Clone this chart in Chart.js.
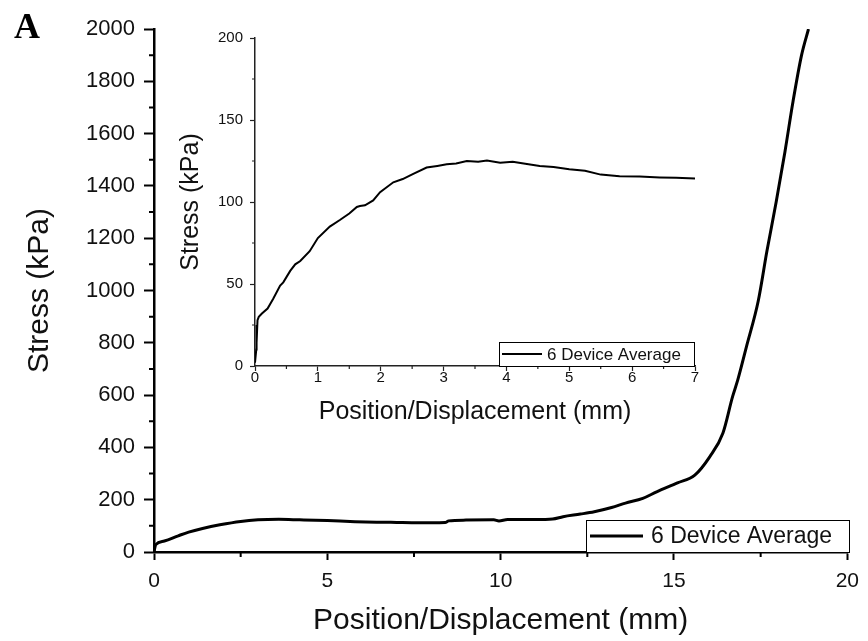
<!DOCTYPE html>
<html>
<head>
<meta charset="utf-8">
<script src="https://cdn.jsdelivr.net/npm/chart.js@4.4.1/dist/chart.umd.min.js"></script>
<style>
html, body { margin: 0; padding: 0; background: #fff; }
#wrap { position: relative; width: 868px; height: 641px; }
#wrap canvas { position: absolute; left: 0; top: 0; }
#panel { position: absolute; left: 14px; top: 8px; font: bold 36px "Liberation Serif", "Times New Roman", serif; line-height: 1; color: #000; }
</style>
</head>
<body>
<div id="wrap">
  <canvas id="mainChart" width="868" height="641"></canvas>
  <canvas id="insetChart" width="868" height="641"></canvas>
  <div id="panel">A</div>
</div>
<script>
// data
const seriesLabel = '6 Device Average';

// main plot: full compression curve
const mainX = [0, 0.03, 0.05, 0.3, 0.7, 1.0, 1.4, 1.9, 2.5, 3.0, 3.6, 4.2, 5.0, 5.8, 6.5, 7.0, 7.5, 8.0, 8.4, 8.5, 9.0, 9.8, 9.95, 10.2, 11.0, 11.5, 11.8, 12.3, 12.7, 13.2, 13.6, 14.1, 14.5, 15.1, 15.6, 16.03, 16.41, 16.69, 16.84, 17.1, 17.43, 17.68, 17.95, 18.2, 18.43, 18.68, 18.88];
const mainY = [0, 20, 28, 42, 62, 76, 90, 104, 117, 123, 125, 123, 120, 116, 114, 113, 112, 112, 113, 119, 122, 123, 119, 124, 124, 126, 135, 145, 154, 170, 187, 205, 230, 264, 294, 364, 454, 594, 658, 790, 960, 1150, 1340, 1530, 1720, 1900, 2000];

// inset: first 7 mm
const insetX = [0, 0.02, 0.03, 0.02, 0.04, 0.06, 0.11, 0.2, 0.29, 0.4, 0.45, 0.56, 0.64, 0.72, 0.87, 1.0, 1.19, 1.35, 1.5, 1.62, 1.67, 1.75, 1.88, 1.99, 2.2, 2.35, 2.51, 2.73, 2.9, 3.05, 3.2, 3.37, 3.55, 3.69, 3.9, 4.1, 4.3, 4.53, 4.75, 5.0, 5.25, 5.5, 5.8, 6.12, 6.44, 6.7, 7.0];
const insetY = [2, 10, 25, 14, 28, 30, 32, 35, 41, 49, 51, 58, 62, 64, 70, 78, 85, 89, 93, 97, 97.5, 98, 101, 106, 112, 114, 117, 121, 122, 123, 123.5, 125, 124.6, 125.3, 124, 124.5, 123.3, 122, 121.3, 120, 119, 116.7, 115.7, 115.5, 115, 114.8, 114.3];

const toPoints = (xs, ys) => xs.map((x, i) => ({ x: x, y: ys[i] }));
const plainNumber = v => String(v);

Chart.defaults.font.family = "'Liberation Sans', Arial, sans-serif";
Chart.defaults.color = '#111';

// small ticks between the labelled ones
const minorTicks = {
  id: 'minorTicks',
  afterDraw(chart, args, o) {
    const ctx = chart.ctx, a = chart.chartArea;
    const sx = chart.scales.x, sy = chart.scales.y;
    ctx.save();
    ctx.strokeStyle = o.color;
    ctx.lineWidth = o.width;
    ctx.beginPath();
    for (let v = sx.min + o.xStep / 2; v < sx.max; v += o.xStep) {
      const px = sx.getPixelForValue(v);
      ctx.moveTo(px, a.bottom);
      ctx.lineTo(px, a.bottom + o.len);
    }
    for (let v = sy.min + o.yStep / 2; v < sy.max; v += o.yStep) {
      const py = sy.getPixelForValue(v);
      ctx.moveTo(a.left, py);
      ctx.lineTo(a.left - o.len, py);
    }
    ctx.stroke();
    ctx.restore();
  }
};

// boxed legend in the lower right corner of the plot
const boxLegend = {
  id: 'boxLegend',
  afterDraw(chart, args, o) {
    const ctx = chart.ctx, a = chart.chartArea;
    const ds = chart.data.datasets[0];
    const x1 = Math.round(a.right + o.dx - o.w), y1 = Math.round(a.bottom - o.h);
    const cy = y1 + o.h / 2;
    ctx.save();
    ctx.fillStyle = '#fff';
    ctx.fillRect(x1, y1, o.w, o.h);
    ctx.strokeStyle = '#000';
    ctx.lineWidth = 1;
    ctx.strokeRect(x1 + 0.5, y1 + 0.5, o.w, o.h);
    ctx.lineWidth = ds.borderWidth;
    ctx.beginPath();
    ctx.moveTo(x1 + o.pad, cy);
    ctx.lineTo(x1 + o.pad + o.line, cy);
    ctx.stroke();
    ctx.font = o.font;
    ctx.textBaseline = 'middle';
    ctx.fillStyle = '#111';
    ctx.fillText(ds.label, x1 + o.pad + o.line + o.gap, cy + 1);
    ctx.restore();
  }
};

// main chart
new Chart(document.getElementById('mainChart'), {
  type: 'scatter',
  data: {
    datasets: [{
      label: seriesLabel,
      data: toPoints(mainX, mainY),
      showLine: true,
      borderColor: '#000',
      borderWidth: 3,
      pointRadius: 0,
      cubicInterpolationMode: 'monotone'
    }]
  },
  options: {
    responsive: false,
    animation: false,
    devicePixelRatio: 1,
    layout: { padding: { left: 0, top: 29, right: 16, bottom: 0 } },
    plugins: {
      legend: { display: false },
      tooltip: { enabled: false },
      minorTicks: { xStep: 5, yStep: 200, len: 5, width: 2, color: '#000' },
      boxLegend: { w: 263, h: 32, dx: 2, pad: 4, line: 53, gap: 8, font: "23px 'Liberation Sans', Arial, sans-serif" }
    },
    scales: {
      x: {
        type: 'linear', min: 0, max: 20,
        ticks: { stepSize: 5, padding: 9, maxRotation: 0, font: { size: 21 }, color: '#111', callback: plainNumber },
        grid: { drawOnChartArea: false, drawTicks: true, tickLength: 8, tickWidth: 2, color: '#000' },
        border: { display: true, color: '#000', width: 2.5 },
        title: { display: true, text: 'Position/Displacement (mm)', font: { size: 30 }, color: '#111', padding: { top: 0, bottom: 2 } },
        afterFit(s) { s.height = 89; }
      },
      y: {
        type: 'linear', min: 0, max: 2000,
        ticks: { stepSize: 200, padding: 9, font: { size: 22 }, color: '#111', callback: plainNumber },
        grid: { drawOnChartArea: false, drawTicks: true, tickLength: 10, tickWidth: 2, color: '#000' },
        border: { display: true, color: '#000', width: 2.5 },
        title: { display: true, text: 'Stress (kPa)', font: { size: 30 }, color: '#111', padding: { top: 22, bottom: 0 } },
        afterFit(s) { s.width = 154; }
      }
    }
  },
  plugins: [minorTicks, boxLegend]
});

// inset chart
new Chart(document.getElementById('insetChart'), {
  type: 'scatter',
  data: {
    datasets: [{
      label: seriesLabel,
      data: toPoints(insetX, insetY),
      showLine: true,
      borderColor: '#000',
      borderWidth: 2,
      pointRadius: 0,
      tension: 0
    }]
  },
  options: {
    responsive: false,
    animation: false,
    devicePixelRatio: 1,
    layout: { padding: { left: 170, top: 38, right: 173, bottom: 214 } },
    plugins: {
      legend: { display: false },
      tooltip: { enabled: false },
      minorTicks: { xStep: 1, yStep: 50, len: 3, width: 1.2, color: '#222' },
      boxLegend: { w: 195, h: 24, dx: -1, pad: 3, line: 40, gap: 5, font: "17px 'Liberation Sans', Arial, sans-serif" }
    },
    scales: {
      x: {
        type: 'linear', min: 0, max: 7,
        ticks: { stepSize: 1, padding: -2, maxRotation: 0, font: { size: 15 }, color: '#111', callback: plainNumber },
        grid: { drawOnChartArea: false, drawTicks: true, tickLength: 5, tickWidth: 1.2, color: '#222' },
        border: { display: true, color: '#222', width: 1.5 },
        title: { display: true, text: 'Position/Displacement (mm)', font: { size: 25 }, color: '#111', padding: { top: 0, bottom: 0 } },
        afterFit(s) { s.height = 61; }
      },
      y: {
        type: 'linear', min: 0, max: 200,
        ticks: { stepSize: 50, padding: 7, font: { size: 15 }, color: '#111', callback: plainNumber },
        grid: { drawOnChartArea: false, drawTicks: true, tickLength: 5, tickWidth: 1.2, color: '#222' },
        border: { display: true, color: '#222', width: 1.5 },
        title: { display: true, text: 'Stress (kPa)', font: { size: 25 }, color: '#111', padding: { top: 6, bottom: 0 } },
        afterFit(s) { s.width = 85; }
      }
    }
  },
  plugins: [minorTicks, boxLegend]
});
</script>
</body>
</html>
